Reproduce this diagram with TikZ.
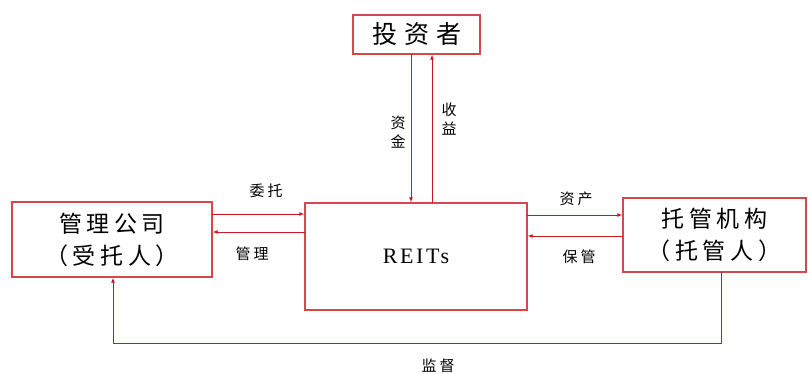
\documentclass[tikz,border=0pt]{standalone}
\usepackage{fontspec}
\newfontfamily\cjk{Noto Sans CJK SC}
\newfontfamily\cjkw{Noto Sans CJK SC}[LetterSpace=20]
\newfontfamily\cjkww{Noto Sans CJK SC}[LetterSpace=28]
\setmainfont{Liberation Serif}
\usetikzlibrary{arrows.meta}
\definecolor{boxred}{RGB}{214,70,74}
\definecolor{linered}{RGB}{200,24,34}
\tikzset{
  box/.style={draw=boxred, line width=1.4pt, rectangle, inner sep=0pt, align=center},
  conn/.style={draw=linered, line width=0.9pt, -{Latex[length=5pt,width=4pt]}},
  lbl/.style={font=\cjkw\fontsize{15}{17}\selectfont, text=black, inner sep=0pt},
  vlbl/.style={font=\cjk\fontsize{15}{19}\selectfont, text=black, inner sep=0pt, align=center}
}
\begin{document}
\begin{tikzpicture}[x=1pt,y=1pt]
\useasboundingbox (0,0) rectangle (808,-374);
% boxes
\node[box, minimum width=127pt, minimum height=39pt, font=\cjkww\fontsize{25}{28}\selectfont] (inv) at (416.5,-34.5) {投资者};
\node[box, minimum width=200pt, minimum height=75pt, font=\cjkw\fontsize{23}{32}\selectfont] (mgmt) at (112,-239.5) {管理公司\\（受托人）};
\node[box, minimum width=222pt, minimum height=107pt, font=\addfontfeature{LetterSpace=12}\fontsize{22}{24}\selectfont] (reits) at (416,-256.5) {REITs};
\node[box, minimum width=183pt, minimum height=74pt, font=\cjkw\fontsize{23}{32}\selectfont] (trust) at (714.5,-235) {托管机构\\（托管人）};
% investor <-> REITs
\coordinate (fd) at (411,-54);
\coordinate (rt) at (432,-203);
\draw[conn] (fd) -- (fd |- reits.north);
\draw[conn] (rt) -- (rt |- inv.south);
\node[vlbl] (l1) at (398,-132) {资\\金};
\node[vlbl] (l2) at (449,-119) {收\\益};
% management <-> REITs
\coordinate (m1) at (212,-214);
\coordinate (m2) at (305,-232);
\draw[conn] (m1) -- (m1 -| reits.west);
\draw[conn] (m2) -- (m2 -| mgmt.east);
\node[lbl] (l3) at (266,-191) {委托};
\node[lbl] (l4) at (252,-254) {管理};
% REITs <-> custodian
\coordinate (t1) at (527,-215);
\coordinate (t2) at (623,-236);
\draw[conn] (t1) -- (t1 -| trust.west);
\draw[conn] (t2) -- (t2 -| reits.east);
\node[lbl] (l5) at (576,-199) {资产};
\node[lbl] (l6) at (579,-257) {保管};
% supervision
\coordinate (s1) at (721,-272);
\coordinate (s2) at (113,-343);
\draw[conn] (s1) |- (s2) -- (s2 |- mgmt.south);
\node[lbl] (l7) at (438,-366) {监督};
\end{tikzpicture}
\end{document}
